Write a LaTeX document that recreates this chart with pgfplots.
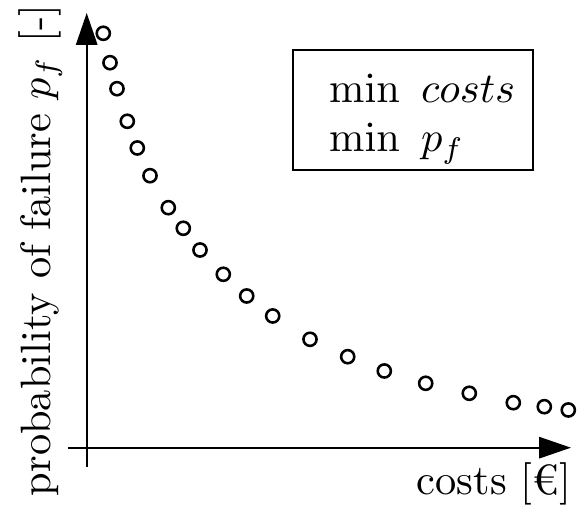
\documentclass[border=0pt]{standalone}
\usepackage{pgfplots}
\pgfplotsset{compat=1.18}
\usetikzlibrary{arrows.meta}
\begin{document}
\begin{tikzpicture}
\begin{axis}[
  x=0.2356pt, y=0.2356pt,
  xmin=0, xmax=577, ymin=0, ymax=512,
  hide axis, clip=false,
]
\path (axis cs:0,0) (axis cs:577,512);
\draw[line width=0.5pt, -{Triangle[length=7.5pt,width=5pt]}] (axis cs:67.7,64.3) -- (axis cs:571,64.3);
\draw[line width=0.5pt, -{Triangle[length=7.5pt,width=5pt]}] (axis cs:86.7,45.3) -- (axis cs:86.7,499);
\addplot[only marks, mark=o, mark size=1.55pt, mark options={line width=0.6pt, black}] coordinates {
(103.3,478.7) (110,449.3) (117,423.3) (127.3,390.7) (137.3,364) (150,336.3)
(168.3,304.3) (183.3,283.7) (200,262) (223.3,237.7) (246.7,216) (272.7,196)
(310,172.7) (347.7,155.3) (384.3,141) (425.7,128.7) (469.3,118.7) (513.3,109.3)
(544.3,105.3) (568.3,102)
};
\draw[line width=0.5pt] (axis cs:293.3,462) rectangle (axis cs:533.3,342);
\node[anchor=base west, inner sep=0pt] at (axis cs:328.3,409.3) {$\min~costs$};
\node[anchor=base west, inner sep=0pt] at (axis cs:328.3,360.3) {$\min~p_f$};
\node[anchor=base west, inner sep=0pt, rotate=90] at (axis cs:50,15) {probability of failure $p_f$~[-]};
\node[anchor=base east, inner sep=0pt] at (axis cs:572,17) {costs~[€]};
\end{axis}
\end{tikzpicture}
\end{document}
